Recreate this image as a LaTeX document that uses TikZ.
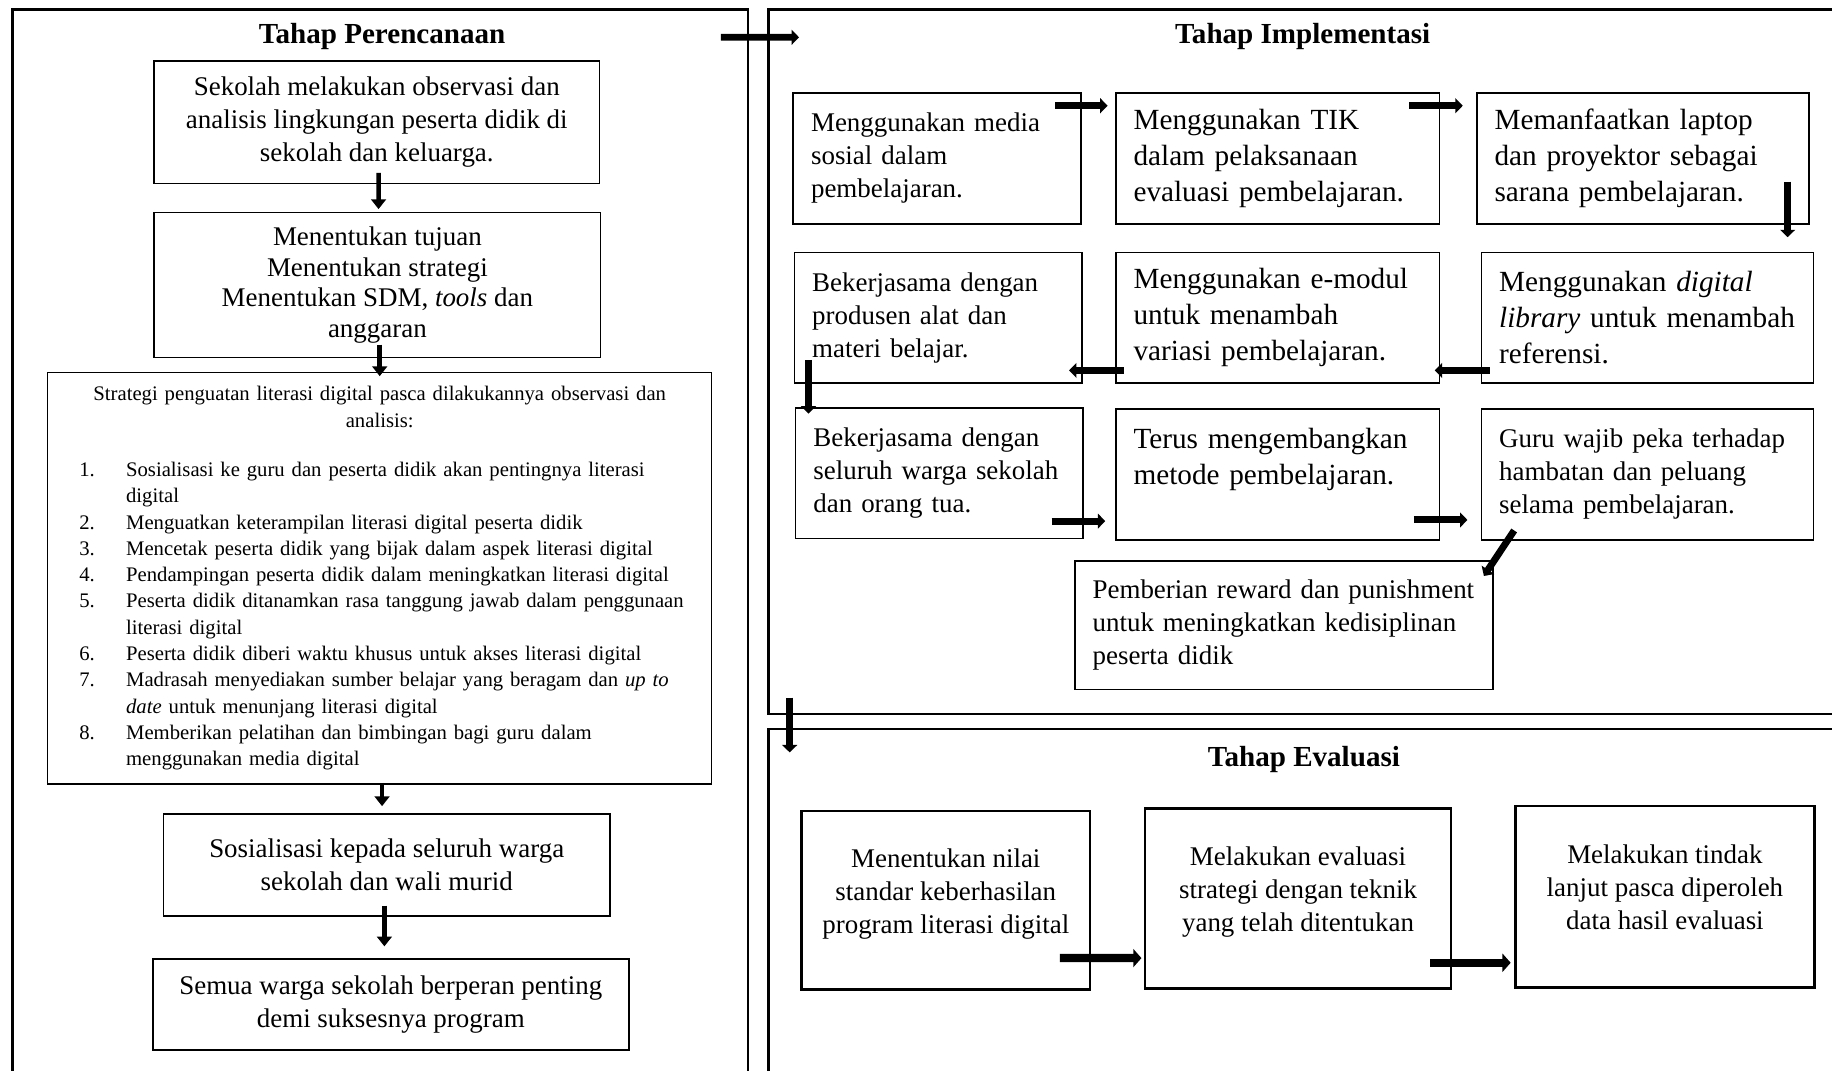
\documentclass[tikz,border=0pt]{standalone}
\usepackage{fontspec,enumitem}
\usetikzlibrary{arrows.meta}
\setmainfont{Liberation Serif}

\begin{document}
\begin{tikzpicture}[x=0.025cm,y=-0.025cm,font=\fontsize{16.4}{20}\selectfont,
  panel/.style={draw,line width=1.6pt,outer sep=0pt,inner sep=0pt},
  head/.style={font=\fontsize{17.7}{21}\selectfont\bfseries},
  cbox/.style={draw,line width=1.1pt,outer sep=0pt,inner sep=0pt,align=center},
  ebox/.style={cbox,line width=1.5pt},
  ibox/.style={draw,line width=1pt,outer sep=0pt,inner xsep=0.38cm,inner ysep=0pt,minimum height=2.8cm,align=left,text width=#1},
  big/.style={font=\fontsize{17.8}{22}\selectfont},
  varr/.style={line width=2.8pt,-{Triangle[length=6pt,width=9pt]}},
  harr/.style={line width=4.2pt,-{Triangle[length=4.5pt,width=9pt]}},
  earr/.style={line width=5pt,-{Triangle[length=5pt,width=11pt]}}]
\useasboundingbox (0,0) rectangle (1568,916);
\clip (0,0) rectangle (1568,916);
\node[panel,minimum width=15.725cm,minimum height=23.3cm] (plan) at (325.5,474) {};
\node[panel,minimum width=23.8cm,minimum height=15.075cm] (impl) at (1134,309.5) {};
\node[panel,minimum width=23.8cm,minimum height=7.9cm] (eval) at (1134,782) {};
\node[head] (tplan) at (327,31) {Tahap Perencanaan};
\node[head] (timpl) at (1115,31) {Tahap Implementasi};
\node[head] (teval) at (1116,650) {Tahap Evaluasi};
\draw[harr] ([shift={(-23,24)}]plan.north east) -- ([shift={(26,24)}]impl.north west);

\node[cbox,minimum width=9.525cm,minimum height=2.625cm] (obs) at (322.5,104.5) {Sekolah melakukan observasi dan\\analisis lingkungan peserta didik di\\sekolah dan keluarga.};
\node[cbox,line width=0.9pt,minimum width=9.55cm,minimum height=3.1cm,font=\fontsize{16.4}{18.7}\selectfont] (tuj) at (323,244) {Menentukan tujuan\\Menentukan strategi\\Menentukan SDM, \textit{tools} dan\\anggaran};
\node[cbox,line width=0.8pt,minimum width=14.2cm,minimum height=8.8cm,text width=13.6cm,inner xsep=0.3cm,align=left,font=\fontsize{12.6}{16}\selectfont] (strat) at (325,495) {%
{\centering Strategi penguatan literasi digital pasca dilakukannya observasi dan\\analisis:\par}
\vspace{14pt}
\begin{enumerate}[label=\arabic*.,labelindent=0.375cm,labelwidth=1cm,labelsep=0pt,leftmargin=1.375cm,align=left,topsep=0pt,partopsep=0pt,itemsep=0pt,parsep=0pt]
\item Sosialisasi ke guru dan peserta didik akan pentingnya literasi\newline digital
\item Menguatkan keterampilan literasi digital peserta didik
\item Mencetak peserta didik yang bijak dalam aspek literasi digital
\item Pendampingan peserta didik dalam meningkatkan literasi digital
\item Peserta didik ditanamkan rasa tanggung jawab dalam penggunaan\newline literasi digital
\item Peserta didik diberi waktu khusus untuk akses literasi digital
\item Madrasah menyediakan sumber belajar yang beragam dan \textit{up to}\newline\textit{date} untuk menunjang literasi digital
\item Memberikan pelatihan dan bimbingan bagi guru dalam\newline menggunakan media digital
\end{enumerate}};
\node[cbox,minimum width=9.55cm,minimum height=2.175cm] (sos) at (331,740.5) {Sosialisasi kepada seluruh warga\\sekolah dan wali murid};
\node[cbox,minimum width=10.175cm,minimum height=1.95cm] (semua) at (334.5,860) {Semua warga sekolah berperan penting\\demi suksesnya program};
\draw[varr] ([shift={(1.5,-9)}]obs.south) -- ([shift={(1,-3)}]tuj.north);
\draw[varr] ([shift={(2,-11)}]tuj.south) -- ([shift={(0,3)}]strat.north);
\draw[varr] ([shift={(2,-1)}]strat.south) -- ([shift={(-4,-7)}]sos.north);
\draw[varr] ([shift={(-2,-9)}]sos.south) -- ([shift={(-5.5,-11)}]semua.north);

\node[ibox=5.39cm] (a1) at (802,135.5) {Menggunakan media\\sosial dalam\\pembelajaran.};
\node[ibox=6.165cm,big] (a2) at (1093.5,135.5) {Menggunakan TIK\\dalam pelaksanaan\\evaluasi pembelajaran.};
\node[ibox=6.34cm,big] (a3) at (1406,135.5) {Memanfaatkan laptop\\dan proyektor sebagai\\sarana pembelajaran.};
\node[ibox=5.39cm] (b1) at (803,272) {Bekerjasama dengan\\produsen alat dan\\materi belajar.};
\node[ibox=6.165cm,big] (b2) at (1093.5,272) {Menggunakan e-modul\\untuk menambah\\variasi pembelajaran.};
\node[ibox=6.34cm,big] (b3) at (1410,272) {Menggunakan \textit{digital}\\\textit{library} untuk menambah\\referensi.};
\node[ibox=5.39cm] (c1) at (804,405) {Bekerjasama dengan\\seluruh warga sekolah\\dan orang tua.};
\node[ibox=6.165cm,big] (c2) at (1093.5,406) {Terus mengembangkan\\metode pembelajaran.\\\mbox{}};
\node[ibox=6.34cm] (c3) at (1410,406) {Guru wajib peka terhadap\\hambatan dan peluang\\selama pembelajaran.};
\node[ibox=8.19cm,minimum height=2.75cm] (d) at (1099,535) {Pemberian reward dan punishment\\untuk meningkatkan kedisiplinan\\peserta didik};
\draw[harr] ([shift={(-22,11)}]a1.north east) -- ([shift={(-7,11)}]a2.north west);
\draw[harr] ([shift={(-26,11)}]a2.north east) -- ([shift={(-12,11)}]a3.north west);
\draw[harr] ([shift={(-18,-36)}]a3.south east) -- ([shift={(-22,-13)}]b3.north east);
\draw[harr] ([shift={(7,-11)}]b3.south west) -- ([shift={(-4,-11)}]b2.south east);
\draw[harr] ([shift={(7,-11)}]b2.south west) -- ([shift={(-11,-11)}]b1.south east);
\draw[harr] ([shift={(12,-20)}]b1.south west) -- ([shift={(11,5)}]c1.north west);
\draw[harr] ([shift={(-27,-15)}]c1.south east) -- ([shift={(-9,-16)}]c2.south west);
\draw[harr] ([shift={(-22,-17)}]c2.south east) -- ([shift={(-12,-17)}]c3.south west);
\draw[harr] ([shift={(28,-8)}]c3.south west) -- ([shift={(-8,13)}]d.north east);
\draw[harr] ([shift={(18,-14)}]impl.south west) -- ([shift={(18,20)}]eval.north west);

\node[ebox,minimum width=6.175cm,minimum height=3.825cm] (e1) at (809.5,770.5) {Menentukan nilai\\standar keberhasilan\\program literasi digital\\[-0.3cm]\mbox{}};
\node[ebox,minimum width=6.55cm,minimum height=3.85cm] (e2) at (1111,769) {Melakukan evaluasi\\strategi dengan teknik\\yang telah ditentukan\\[-0.3cm]\mbox{}};
\node[ebox,minimum width=6.4cm,minimum height=3.875cm] (e3) at (1425,767.5) {Melakukan tindak\\lanjut pasca diperoleh\\data hasil evaluasi\\[-0.3cm]\mbox{}};
\draw[earr] ([shift={(-26,-27)}]e1.south east) -- ([shift={(-3,-26)}]e2.south west);
\draw[earr] ([shift={(-18,-22)}]e2.south east) -- ([shift={(-4,-21)}]e3.south west);
\end{tikzpicture}
\end{document}
